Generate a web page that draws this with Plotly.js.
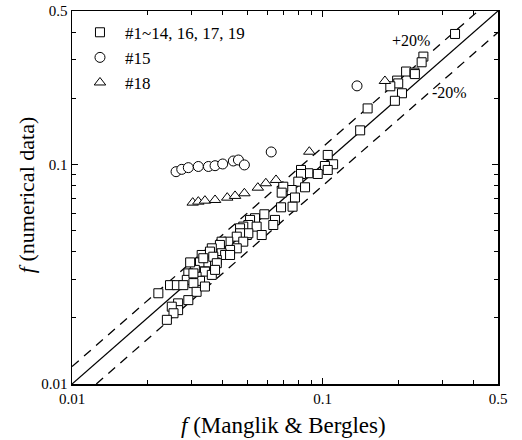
<!DOCTYPE html>
<html>
<head>
<meta charset="utf-8">
<script src="https://cdn.plot.ly/plotly-3.0.1.min.js"></script>
<style>html,body{margin:0;padding:0;background:#fff;}#chart{width:522px;height:440px;}</style>
</head>
<body>
<div id="chart"></div>
<script>
// Series: #1~14, 16, 17, 19 (squares)
const sqX = [0.337,0.252,0.248,0.215,0.232,0.233,0.198,0.200,0.186,0.207,0.194,0.151,0.141,
  0.1047,0.110,0.102,0.1047,0.0955,0.0876,0.0819,0.0819,0.0799,0.0850,0.0752,0.0696,0.0686,0.0775,0.0758,0.0682,
  0.0585,0.0645,0.0635,0.0537,0.0513,0.0505,0.0545,0.0482,0.0468,0.0571,0.0498,0.0505,0.0468,0.0454,0.0482,0.0420,
  0.0454,0.0427,0.0395,0.0389,0.0361,0.0395,0.0408,0.0378,0.0345,0.0329,0.0355,0.0324,0.0350,0.0372,0.0339,0.0361,
  0.0309,0.0314,0.0291,0.0287,0.0324,0.0305,0.0221,0.0246,0.0262,0.0278,0.0296,0.0366,0.0378,0.0372,0.0314,0.0291,
  0.0265,0.0265,0.0250,0.0254,0.0239,0.0339,0.0305,0.0334,0.0427];
const sqY = [0.393,0.310,0.292,0.265,0.262,0.258,0.241,0.234,0.227,0.211,0.195,0.180,0.143,
  0.1105,0.1002,0.0984,0.0944,0.0905,0.0912,0.0944,0.0905,0.0835,0.0787,0.0765,0.0792,0.0744,0.0707,0.0642,0.0638,
  0.0593,0.0559,0.0530,0.0569,0.0559,0.0530,0.0521,0.0521,0.0512,0.0477,0.0477,0.0486,0.0486,0.0469,0.0445,0.0445,
  0.0415,0.0408,0.0445,0.0430,0.0415,0.0394,0.0387,0.0367,0.0374,0.0387,0.0401,0.0358,0.0358,0.0358,0.0325,0.0314,
  0.0331,0.0308,0.0319,0.0298,0.0295,0.0288,0.0259,0.0282,0.0282,0.0282,0.0358,0.0380,0.0355,0.0331,0.0263,0.0241,
  0.0233,0.0217,0.0225,0.0210,0.0196,0.0278,0.0319,0.0374,0.0387];
// Series: #15 (circles)
const ciX = [0.0260,0.0274,0.0291,0.0319,0.0350,0.0372,0.0399,0.0440,0.0461,0.0487,0.0623,0.137];
const ciY = [0.0927,0.0950,0.0967,0.0979,0.0979,0.0987,0.1005,0.1037,0.1048,0.0995,0.114,0.228];
// Series: #18 (triangles)
const trX = [0.0303,0.0319,0.0339,0.0372,0.0416,0.0447,0.0487,0.0551,0.0593,0.0651,0.0884,0.177];
const trY = [0.0670,0.0677,0.0684,0.0689,0.0706,0.0719,0.0739,0.0784,0.0821,0.0850,0.1143,0.240];
// Reference lines: ratio of numerical to correlation
const lineRatios = [1.0, 1.2, 0.8];
const axisMin = 0.01, axisMax = 0.5;
const tickVals = [0.01, 0.1, 0.5];
const tickText = ['0.01', '0.1', '0.5'];
const minorVals = [0.02,0.03,0.04,0.05,0.06,0.07,0.08,0.09,0.2,0.3,0.4];
const seriesNames = ['#1~14, 16, 17, 19', '#15', '#18'];
const xTitle = '<i>f</i> (Manglik &amp; Bergles)';
const yTitle = '<i>f</i> (numerical data)';
const bandLabels = ['+20%', '-20%'];

const FONT = 'Liberation Serif, Times New Roman, serif';
const traces = [];
lineRatios.forEach(function(r){
  const x0 = Math.max(axisMin, axisMin / r), x1 = Math.min(axisMax, axisMax / r);
  traces.push({x: [x0, x1], y: [x0 * r, x1 * r], mode: 'lines', showlegend: false, hoverinfo: 'skip',
    line: {color: '#000', width: 1.3, dash: r === 1 ? 'solid' : '9px,7px'}});
});
const mk = function(sym, s){ return {symbol: sym, size: s, color: '#fff', line: {color: '#000', width: 1}}; };
traces.push({x: sqX, y: sqY, mode: 'markers', name: seriesNames[0], marker: mk('square', 9)});
traces.push({x: ciX, y: ciY, mode: 'markers', name: seriesNames[1], marker: mk('circle', 10)});
traces.push({x: trX, y: trY, mode: 'markers', name: seriesNames[2], marker: mk('triangle-up', 10)});

const axisCommon = {
  type: 'log', range: [Math.log10(axisMin), Math.log10(axisMax)],
  tickmode: 'array', tickvals: tickVals, ticktext: tickText,
  ticks: 'inside', ticklen: 6, tickwidth: 1, tickcolor: '#000',
  minor: {tickmode: 'array', tickvals: minorVals, ticks: 'inside', ticklen: 4, tickwidth: 1, tickcolor: '#000', showgrid: false},
  showline: true, linecolor: '#000', linewidth: 1.5, mirror: 'allticks',
  showgrid: false, zeroline: false,
  tickfont: {family: FONT, size: 15, color: '#000'}
};
const ann = function(x, y, text, size, angle){
  return {xref: 'paper', yref: 'paper', x: x, y: y, text: text, showarrow: false,
    xanchor: 'center', yanchor: 'middle', textangle: angle || 0,
    font: {family: FONT, size: size, color: '#000'}};
};
const layout = {
  width: 522, height: 440,
  margin: {l: 72, r: 24, t: 11, b: 56},
  paper_bgcolor: '#fff', plot_bgcolor: '#fff',
  font: {family: FONT, color: '#000'},
  xaxis: Object.assign({}, axisCommon),
  yaxis: Object.assign({}, axisCommon),
  legend: {x: 0.007, y: 0.990, xanchor: 'left', yanchor: 'top', bgcolor: 'rgba(0,0,0,0)', itemwidth: 40,
    font: {family: FONT, size: 17, color: '#000'}, tracegroupgap: 0},
  showlegend: true,
  annotations: [
    ann(0.795, 0.921, bandLabels[0], 16),
    ann(0.887, 0.782, bandLabels[1], 16),
    ann(0.497, -0.112, xTitle, 23),
    ann(-0.105, 0.507, yTitle, 22, -90)
  ]
};
Plotly.newPlot('chart', traces, layout, {displayModeBar: false, staticPlot: true});
</script>
</body>
</html>
